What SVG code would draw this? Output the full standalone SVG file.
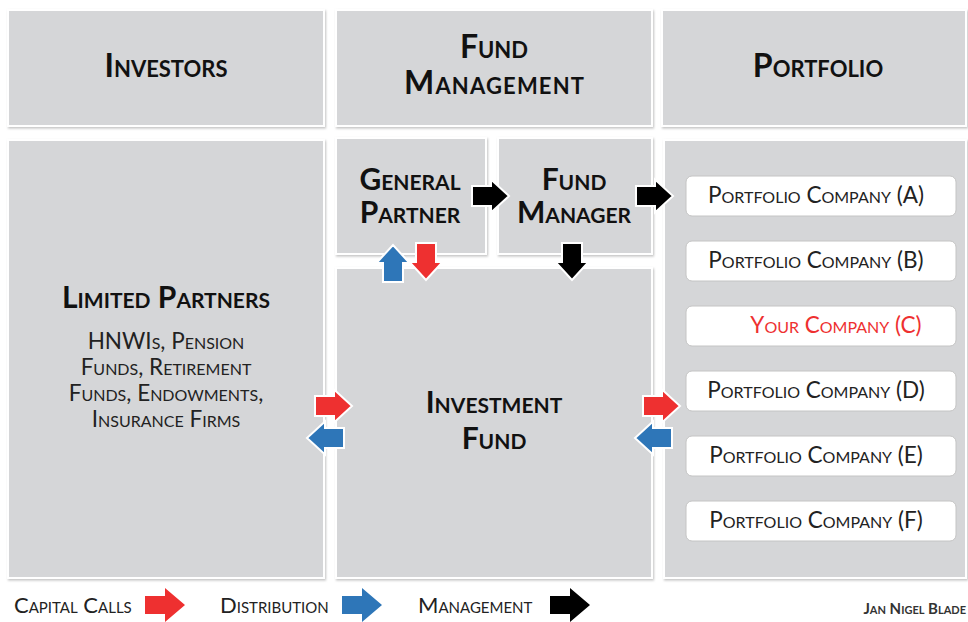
<svg xmlns="http://www.w3.org/2000/svg" xmlns:xlink="http://www.w3.org/1999/xlink" width="968" height="622" viewBox="0 0 968 622">
<defs>
<filter id="sh" x="-5%" y="-5%" width="110%" height="110%">
<feDropShadow dx="1" dy="1.5" stdDeviation="1.2" flood-color="#9a9a9a" flood-opacity="0.6"/>
</filter>
<path id="arR" d="M0,-10 H19 V-16.5 L37,0 L19,16.5 V10 H0 Z"/>
<path id="arL" d="M37,-10 H18 V-16.5 L0,0 L18,16.5 V10 H37 Z"/>
<path id="arD" d="M-10,0 V19 H-16.5 L0,37 L16.5,19 H10 V0 Z"/>
<path id="arU" d="M-10,37 V18 H-16.5 L0,0 L16.5,18 H10 V37 Z"/>
<path id="arLeg" d="M0,-9 H20 V-17 L40,0 L20,17 V9 H0 Z"/>
</defs>
<style>
.box{fill:#d5d6d8;stroke:#ffffff;stroke-width:2;filter:url(#sh)}
.co{fill:#ffffff;stroke:#c4c4c4;stroke-width:1}
text{font-family:Lato,"Open Sans","Liberation Sans",sans-serif;font-variant:small-caps;text-anchor:middle;fill:#111}
.t{font-size:32px;font-weight:bold}
.s{font-size:30px;font-weight:bold}
.sub{font-size:22.5px;fill:#222}
.c{font-size:22.5px;fill:#222}
.leg{font-size:22px;text-anchor:start;fill:#222}
.red{fill:#ee3030}
.blue{fill:#2e76b8}
.blk{fill:#000}
.ao{stroke:#ffffff;stroke-width:2}
</style>
<rect width="968" height="622" fill="#ffffff"/>

<g id="investors"><rect class="box" x="8" y="10" width="316" height="116"/><text class="t" x="166" y="77">Investors</text></g>
<g id="fund-management"><rect class="box" x="336" y="10" width="316" height="116"/><text class="t" x="494" y="58">Fund</text><text class="t" x="494" y="94" textLength="180">Management</text></g>
<g id="portfolio"><rect class="box" x="662" y="10" width="304" height="116"/><text class="t" x="818" y="77">Portfolio</text></g>

<g id="limited-partners"><rect class="box" x="8" y="140" width="316" height="438"/>
<text class="s" x="166" y="308">Limited Partners</text>
<text class="sub" x="166" y="349">HNWIs, Pension</text>
<text class="sub" x="166" y="375">Funds, Retirement</text>
<text class="sub" x="166" y="401">Funds, Endowments,</text>
<text class="sub" x="166" y="427">Insurance Firms</text>
</g>
<g id="general-partner"><rect class="box" x="336" y="138" width="150" height="116"/><text class="s" x="410" y="190">General</text><text class="s" x="410" y="223">Partner</text></g>
<g id="fund-manager"><rect class="box" x="498" y="138" width="154" height="116"/><text class="s" x="574" y="190">Fund</text><text class="s" x="574" y="223">Manager</text></g>
<g id="investment-fund"><rect class="box" x="336" y="268" width="316" height="310"/><text class="s" x="494" y="413">Investment</text><text class="s" x="494" y="449">Fund</text></g>
<g id="portfolio-panel"><rect class="box" x="664" y="140" width="302" height="438"/></g>

<g id="company-a"><rect class="co" x="686" y="176" width="270" height="40" rx="6"/><text class="c" x="816" y="203">Portfolio Company (A)</text></g>
<g id="company-b"><rect class="co" x="686" y="241" width="270" height="40" rx="6"/><text class="c" x="816" y="268">Portfolio Company (B)</text></g>
<g id="company-c"><rect class="co" x="686" y="306" width="270" height="40" rx="6"/><text class="c red" x="836" y="333">Your Company (C)</text></g>
<g id="company-d"><rect class="co" x="686" y="371" width="270" height="40" rx="6"/><text class="c" x="816" y="398">Portfolio Company (D)</text></g>
<g id="company-e"><rect class="co" x="686" y="436" width="270" height="40" rx="6"/><text class="c" x="816" y="463">Portfolio Company (E)</text></g>
<g id="company-f"><rect class="co" x="686" y="501" width="270" height="40" rx="6"/><text class="c" x="816" y="528">Portfolio Company (F)</text></g>

<g id="connectors">
<use href="#arR" class="blk ao" x="472" y="196"/>
<use href="#arR" class="blk ao" x="636" y="196"/>
<use href="#arD" class="blk ao" x="572" y="243"/>
<use href="#arU" class="blue ao" x="393" y="245"/>
<use href="#arD" class="red ao" x="426" y="243"/>
<use href="#arR" class="red ao" x="315" y="406"/>
<use href="#arL" class="blue ao" x="307" y="438"/>
<use href="#arR" class="red ao" x="643" y="406"/>
<use href="#arL" class="blue ao" x="635" y="438"/>
</g>

<g id="legend">
<text class="leg" x="14" y="613">Capital Calls</text>
<use href="#arLeg" class="red" x="145" y="605"/>
<text class="leg" x="220" y="613">Distribution</text>
<use href="#arLeg" class="blue" x="342" y="605"/>
<text class="leg" x="418" y="613">Management</text>
<use href="#arLeg" class="blk" x="550" y="605"/>
<text x="966" y="614" style="font-size:15px;text-anchor:end;fill:#333;font-weight:bold">Jan Nigel Blade</text>
</g>
</svg>
